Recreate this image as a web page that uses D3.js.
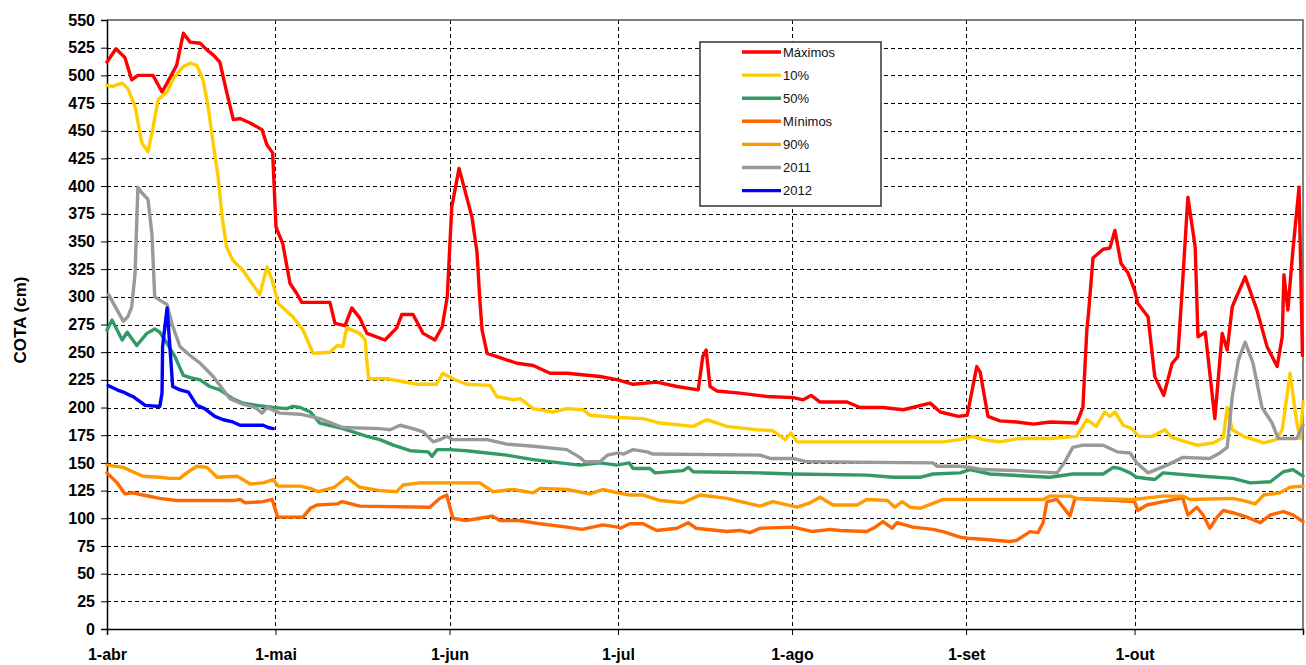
<!DOCTYPE html>
<html lang="pt">
<head>
<meta charset="UTF-8">
<title>COTA (cm)</title>
<style>
body { margin: 0; background: #fff; }
text { font-family: "Liberation Sans", Arial, sans-serif; }
.axis-label { font-size: 16px; font-weight: bold; fill: #000; }
.grid line { stroke: #000; stroke-width: 1px; stroke-dasharray: 4,3; shape-rendering: crispEdges; }
.serie { fill: none; stroke-width: 3.4px; stroke-linejoin: round; stroke-linecap: round; }
.legend text { font-size: 13px; fill: #111; }
</style>
</head>
<body>
<script src="https://cdnjs.cloudflare.com/ajax/libs/d3/7.8.5/d3.min.js"></script>
<script>
// x = days since 1-abr, y = cota (cm)
var maximos = [[0,512],[1.6,524],[3.2,516],[4.4,496],[5.5,500],[8.2,500],[9.8,485],[10.7,493],[12.4,509],[13.6,538],[14.8,530],[16.6,529],[17.8,523],[19,518],[20.1,512],[21.3,485],[22.5,460],[23.7,461],[25.5,457],[27.6,451],[28.5,437],[29.5,430],[30.1,363],[31.3,348],[32.6,312],[33.8,303],[34.7,295],[39.7,295],[40.6,276],[42.4,274],[43.6,290],[45,281],[46.3,267],[49.5,261],[51.6,272],[52.5,284],[54.5,284],[56.3,267],[58.4,261],[59.7,273],[60.6,300],[61.4,381],[62.7,416],[65,372],[65.9,340],[66.4,297],[66.8,270],[67.7,249],[70,245],[73,240],[75.9,238],[78.9,231],[81.9,231],[87.8,228],[91,225],[93.7,221],[97.9,223],[101.5,219],[105.3,216],[106.1,246],[106.7,252],[107.4,219],[108.6,215],[112.7,213],[117.5,210],[122.2,209],[124,207],[125.4,211],[127,205],[131.8,205],[134.1,200],[138.2,200],[141.8,198],[146.6,204],[148.4,196],[151.6,192],[153.2,193],[154.9,237],[155.5,232],[156.9,192],[159,188],[162,187],[165,185],[168,187],[172.7,186],[173.8,200],[174.5,270],[174.8,285],[175.6,335],[177.4,343],[178.6,344],[179.5,360],[180.6,330],[181.8,322],[183,306],[183.6,294],[185.4,282],[186.6,228],[188.2,211],[189.7,240],[190.7,246],[191.4,300],[192.5,390],[193.8,345],[194.3,264],[195.6,268],[197.3,190],[198.6,267],[199.5,252],[200.4,291],[202.7,318],[204.8,288],[206.6,255],[208.4,237],[209.3,264],[209.6,320],[210.3,288],[211.2,342],[212.3,399],[212.9,247]];

var p10 = [[0,491],[1,490],[2.7,493],[3.7,488],[5,472],[6.2,439],[7.3,431],[8.2,453],[9.1,478],[10.7,485],[11.8,497],[13.6,508],[14.8,511],[16,509],[17.1,496],[18,472],[18.9,439],[19.8,408],[20.5,372],[21.3,345],[22.4,333],[24.2,324],[27.2,302],[28.5,327],[29.4,315],[30.5,294],[33.1,282],[34.9,270],[36.7,249],[39.7,250],[41,256],[42,255],[42.7,272],[45,267],[46,261],[46.2,246],[46.6,226],[49.9,226],[55.2,221],[58.7,221],[59.8,231],[61.6,226],[64,221],[68.2,220],[69.4,210],[72.4,207],[73.6,208],[75.9,199],[79.4,196],[81.9,199],[84.8,198],[86,193],[91,191],[95.5,190],[98.5,186],[104.4,183],[106.8,189],[110.4,183],[114,181],[115.8,180],[118.6,179],[120.8,171],[121.8,177],[122.9,169],[148.9,169],[151.9,171],[154.3,174],[156,171],[159,169],[162.3,172],[167.9,172],[172.7,174],[174.5,189],[175.4,186],[176.2,183],[177.7,196],[178.6,192],[179.5,196],[181,184],[182.5,181],[183.8,174],[186.2,174],[188.4,180],[189.6,173],[191.6,170],[194.1,166],[197,168],[198.8,173],[199.5,200],[200.4,180],[202.4,174],[204.2,171],[206,168],[208.2,171],[209.3,180],[210.7,231],[211.9,186],[212.5,172],[213,205]];

var p50 = [[0,270],[0.9,279],[2.7,261],[3.6,268],[5.3,256],[7.1,267],[8.5,271],[9.4,268],[10.7,258],[12.1,246],[13.6,229],[14.8,227],[16.6,225],[18.3,219],[20.1,216],[22.4,208],[24.2,204],[26.7,202],[29.6,200],[32,199],[33.1,201],[34.4,200],[36.2,196],[37.9,186],[42,181],[46.3,174],[48.6,171],[51,166],[54,161],[57.2,160],[57.9,156],[58.8,162],[61.1,162],[64,161],[67.7,159],[71.2,157],[75.9,153],[80.7,150],[84.2,148],[87.8,150],[90.8,148],[93,150],[93.7,145],[96.7,145],[97.6,141],[102.6,143],[103.5,146],[104.4,142],[116.3,141],[122.2,140],[135.3,139],[140,137],[144.8,137],[147.1,140],[151.9,141],[153.7,144],[157.2,140],[167.9,137],[172,140],[177.4,140],[179.2,146],[180.4,145],[182.2,141],[183.4,137],[186.6,135],[188.1,141],[195.2,138],[200.5,136],[203.6,132],[207.2,133],[209.5,142],[211.2,144],[213,138]];

var minimos = [[0,141],[1.8,132],[3.2,122],[4.6,123],[6.4,121],[9.4,118],[12.4,116],[16.6,116],[22.5,116],[23.7,117],[24.6,114],[27.8,115],[29.4,117],[30.4,101],[34.9,101],[36.2,109],[37.4,112],[41,113],[41.9,115],[45,111],[57.5,110],[59.3,118],[60.5,121],[61.6,100],[64,98],[66.4,100],[68.6,102],[70,98],[73.5,98],[77.1,95],[81.9,92],[84.6,90],[88.3,94],[91,92],[91.4,91],[93.1,95],[95.5,95],[97.9,89],[101.5,91],[103.5,96],[104.9,91],[110.4,88],[112.7,89],[114.5,87],[116.3,91],[122.2,92],[125.7,88],[128.8,90],[130.5,89],[135.3,88],[136.8,92],[138.2,97],[139.8,91],[140.7,96],[143.5,92],[147.1,90],[148.9,88],[151.9,83],[153.2,82],[156,81],[160.8,79],[162,80],[164.4,88],[165.8,87],[166.7,96],[167.4,115],[169.2,117],[170.3,110],[171.5,102],[172.4,118],[175.6,117],[179.9,116],[183,115],[183.6,107],[185.2,112],[188.1,115],[191.1,118],[191.6,118],[192.5,103],[194.1,110],[195.2,103],[196.4,91],[197.7,101],[198.8,107],[200.5,105],[203,101],[205.4,96],[207.2,103],[209.5,106],[211.2,103],[213,97]];

var p90 = [[0,148],[2.9,146],[4.6,142],[6.4,138],[9.4,137],[11.2,136],[13,136],[14.2,141],[16,147],[17.8,146],[19.6,137],[23.2,138],[25.5,131],[27.8,132],[29.6,135],[30.5,129],[34.4,129],[36.2,127],[37.6,124],[40.5,128],[42.7,137],[45,128],[48.6,125],[51.6,124],[52.7,130],[55.7,132],[66.4,132],[68.7,124],[72.3,126],[75.9,123],[77.1,127],[81.9,126],[86,122],[88.3,126],[91,123],[93.1,121],[95.5,121],[98.5,116],[102.6,114],[105.6,121],[110.4,118],[116.3,111],[118.6,115],[122.9,110],[125.2,114],[127,119],[129.3,112],[133.6,112],[135.3,117],[139,116],[140.3,110],[141.6,115],[143,110],[144.8,109],[148.9,117],[166.7,117],[167.9,120],[171.5,120],[172.7,118],[182.7,117],[188.1,120],[191.6,120],[192.9,117],[200.5,118],[202.4,116],[204.5,113],[206,121],[208.9,123],[210.7,128],[213,129]];

var y2011 = [[0.3,302],[1.8,288],[2.9,278],[3.7,282],[4.4,291],[5,321],[5.5,399],[6.2,394],[7.3,388],[8,357],[8.5,300],[9.4,297],[10.7,293],[11.6,275],[13,255],[14.8,247],[16.6,240],[18.9,228],[20.7,216],[21.9,208],[24.2,203],[25.8,201],[26.7,199],[27.6,195],[28.5,200],[30.8,195],[34.4,194],[37.9,190],[42,182],[48.6,181],[50.4,180],[52.2,184],[54.5,181],[56.3,178],[58.1,169],[59.3,171],[60.5,174],[61.6,171],[67.7,171],[71.2,167],[75.9,165],[81.9,162],[84.2,155],[85.1,151],[87.8,151],[89.1,157],[91,159],[92,158],[93.7,162],[96.2,160],[97.2,158],[116.3,157],[118.1,154],[122.2,154],[124.7,151],[147.1,150],[147.8,147],[151.9,147],[153.7,146],[156,144],[162,143],[169.2,141],[170.6,151],[172,164],[173.8,166],[177.4,166],[179.9,160],[182.2,159],[183.4,150],[185.4,141],[188.8,148],[191.6,155],[196.4,154],[198.2,159],[199.5,164],[200.4,210],[201.5,243],[202.7,259],[204.1,240],[205.7,200],[207.5,186],[208.6,172],[211.9,172],[213,184]];

var y2012 = [[0.2,220],[1.8,216],[2.9,214],[4.1,211],[4.6,210],[6.8,202],[9.4,201],[9.8,213],[9.9,255],[10.7,290],[11.2,255],[11.7,219],[13,216],[14.5,214],[16,202],[17.4,199],[19.2,192],[20.7,189],[22.4,187],[23.7,184],[27.8,184],[28.7,182],[29.6,181]];

var seriesNames = ["Máximos", "10%", "50%", "Mínimos", "90%", "2011", "2012"];
var seriesColors = ["#ff0000", "#ffcc00", "#339966", "#ff6600", "#ff9900", "#999999", "#0000ff"];
var seriesData = [maximos, p10, p50, minimos, p90, y2011, y2012];

var yTicks = d3.range(0, 551, 25);
var monthLabels = ["1-abr", "1-mai", "1-jun", "1-jul", "1-ago", "1-set", "1-out"];
var monthDates = [3, 4, 5, 6, 7, 8, 9].map(m => new Date(Date.UTC(2012, m, 1)));

var width = 1306, height = 665;
var margin = { top: 20, right: 3, bottom: 36, left: 107 };
var innerW = width - margin.left - margin.right,
    innerH = height - margin.top - margin.bottom;

var start = Date.UTC(2012, 3, 1);
function dayToDate(d) { return new Date(start + d * 864e5); }

var x = d3.scaleUtc()
  .domain([new Date(start), new Date(Date.UTC(2012, 9, 31))])
  .range([0, innerW]);
var y = d3.scaleLinear().domain([0, 550]).range([innerH, 0]);

var svg = d3.select("body").append("svg")
  .attr("width", width).attr("height", height);
var g = svg.append("g")
  .attr("transform", "translate(" + margin.left + "," + margin.top + ")");

// gridlines
var grid = g.append("g").attr("class", "grid");
grid.selectAll("line.h").data(yTicks.filter(v => v > 0 && v < 550)).enter()
  .append("line").attr("class", "h")
  .attr("x1", 0).attr("x2", innerW)
  .attr("y1", d => Math.round(y(d)) + 0.5).attr("y2", d => Math.round(y(d)) + 0.5);
grid.selectAll("line.v").data(monthDates.slice(1)).enter()
  .append("line").attr("class", "v")
  .attr("x1", d => Math.round(x(d)) + 0.5).attr("x2", d => Math.round(x(d)) + 0.5)
  .attr("y1", 0).attr("y2", innerH);

// plot border (top / right)
g.append("path")
  .attr("d", "M0,0H" + innerW + "V" + innerH)
  .attr("fill", "none").attr("stroke", "#555").attr("stroke-width", 1.5);

// axes
var yAxis = d3.axisLeft(y).tickValues(yTicks).tickSize(6).tickPadding(6);
var gy = g.append("g").call(yAxis);
gy.select(".domain").attr("stroke-width", 1.5);
gy.selectAll("text").attr("class", "axis-label").attr("font-size", null).attr("font-family", null);

var xAxis = d3.axisBottom(x).tickValues(monthDates)
  .tickFormat((d, i) => monthLabels[i]).tickSize(6).tickPadding(14);
var gx = g.append("g").attr("transform", "translate(0," + innerH + ")").call(xAxis);
gx.select(".domain").attr("stroke-width", 1.5);
gx.selectAll("text").attr("class", "axis-label").attr("font-size", null).attr("font-family", null);

// y title
svg.append("text").attr("class", "axis-label")
  .attr("transform", "translate(26,320) rotate(-90)")
  .attr("text-anchor", "middle")
  .style("font-size", "17px")
  .text("COTA (cm)");

// lines
var line = d3.line().x(d => x(dayToDate(d[0]))).y(d => y(d[1]));
g.selectAll("path.serie").data(seriesData).enter()
  .append("path").attr("class", "serie")
  .attr("stroke", (d, i) => seriesColors[i])
  .attr("d", line);

// legend
var lg = svg.append("g").attr("class", "legend").attr("transform", "translate(700,42)");
lg.append("rect").attr("width", 181).attr("height", 164)
  .attr("fill", "#fff").attr("stroke", "#333").attr("stroke-width", 1.5);
var item = lg.selectAll("g.item").data(seriesNames).enter().append("g")
  .attr("class", "item")
  .attr("transform", (d, i) => "translate(0," + (10 + i * 23.1) + ")");
item.append("line").attr("x1", 42).attr("x2", 81)
  .attr("stroke", (d, i) => seriesColors[i]).attr("stroke-width", 3.4);
item.append("text").attr("x", 83).attr("dy", "0.35em").text(d => d);
</script>
</body>
</html>
